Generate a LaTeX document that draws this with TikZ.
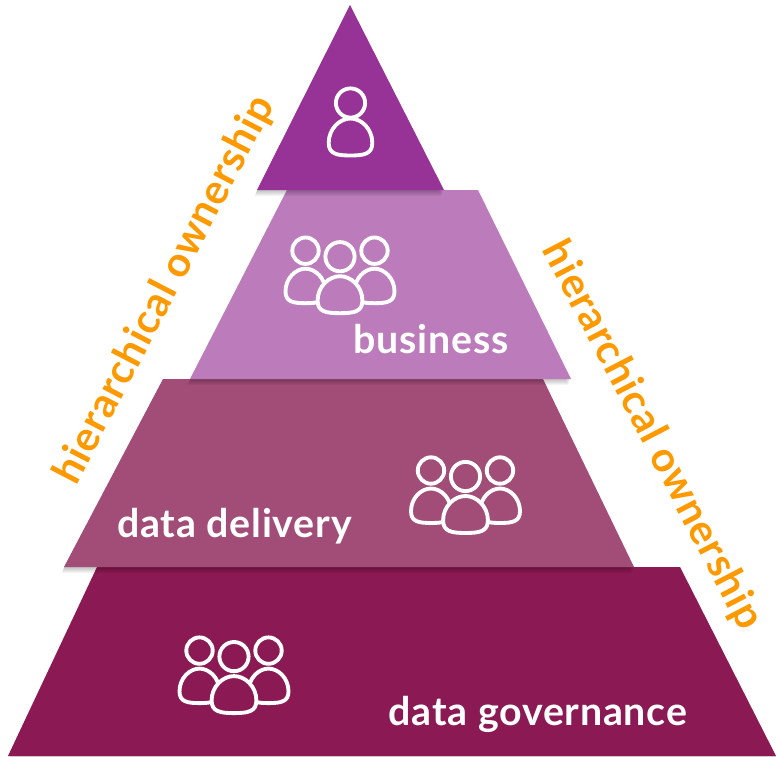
\documentclass[tikz,border=0pt]{standalone}
\usepackage{fontspec}
\setmainfont{Lato}[BoldFont={Lato Bold},LetterSpace=2.0]
\definecolor{layerA}{HTML}{973296}
\definecolor{layerB}{HTML}{BC7CBC}
\definecolor{layerC}{HTML}{A24C78}
\definecolor{layerD}{HTML}{8B1953}
\definecolor{ownorange}{HTML}{FF9900}
\tikzset{
  x=0.75pt,y=-0.75pt,
  iconline/.style={draw=white,line width=2.9pt,line join=round},
  layerlabel/.style={text=white,font=\bfseries\fontsize{29.5}{32}\selectfont,inner sep=0pt},
  ownlabel/.style={text=ownorange,font=\bfseries\fontsize{31}{33}\selectfont,inner sep=0pt},
}
% body: centre x #1, top y #2, height #3, half width #4, fill #5
\newcommand{\personbody}[5]{%
  \pgfmathsetmacro{\bx}{#1}\pgfmathsetmacro{\by}{#2}\pgfmathsetmacro{\bh}{#3}\pgfmathsetmacro{\bw}{#4}%
  \path[iconline,fill=#5] (\bx,\by)
    .. controls ({\bx+0.5*\bw},\by) and ({\bx+\bw},{\by+0.28*\bh}) .. ({\bx+\bw},{\by+0.66*\bh})
    .. controls ({\bx+\bw},{\by+0.96*\bh}) and ({\bx+0.62*\bw},{\by+\bh}) .. (\bx,{\by+\bh})
    .. controls ({\bx-0.62*\bw},{\by+\bh}) and ({\bx-\bw},{\by+0.96*\bh}) .. ({\bx-\bw},{\by+0.66*\bh})
    .. controls ({\bx-\bw},{\by+0.28*\bh}) and ({\bx-0.5*\bw},\by) .. cycle;}
\newcommand{\personhead}[4]{%
  \path[iconline,fill=#4] (#1,#2) ellipse [x radius=#3,y radius=#3];}
\newcommand{\persongroup}[3]{%
  \personbody{#1-34.5}{#2+12}{34.5}{20}{#3}
  \personbody{#1+34.5}{#2+12}{34.5}{20}{#3}
  \personhead{#1-34.5}{#2-6}{13.2}{#3}
  \personhead{#1+34.5}{#2-6}{13.2}{#3}
  \personhead{#1}{#2}{14.6}{#3}
  \personbody{#1}{#2+19.5}{37}{22.4}{#3}}
\newcommand{\softshadow}[1]{%
  \foreach \d in {1,2,...,6}{
    \begin{scope}[yshift={-\d*0.75pt},xshift={-\d*0.3pt}]\fill[black,opacity=0.045] #1;\end{scope}
  }}
\begin{document}
\begin{tikzpicture}
\useasboundingbox (0,0) rectangle (776,757);
% base layer
\fill[black,opacity=0.12] (9,758) -- (98,569) -- (681,569) -- (777,758) -- cycle;
\fill[layerD] (8,756) -- (97,567) -- (680,567) -- (776,756) -- cycle;
\softshadow{(64,567) -- (163,379) -- (543,379) -- (634,567) -- cycle}
\fill[layerC] (64,567) -- (163,379) -- (543,379) -- (634,567) -- cycle;
\softshadow{(190,379) -- (287,190) -- (478,190) -- (571,379) -- cycle}
\fill[layerB] (190,379) -- (287,190) -- (478,190) -- (571,379) -- cycle;
\softshadow{(257,190) -- (350,5) -- (444,190) -- cycle}
\fill[layerA] (257,190) -- (350,5) -- (444,190) -- cycle;
% icons
\personbody{350.5}{118.5}{37}{21.8}{layerA}
\personhead{350.5}{103}{14.6}{layerA}
\persongroup{340}{256.7}{layerB}
\persongroup{465.5}{476.5}{layerC}
\persongroup{234}{656.6}{layerD}
% labels
\node[layerlabel] (business) at (431,339) {business};
\node[layerlabel] (delivery) at (234.5,526) {data delivery};
\node[layerlabel] (governance) at (538,714) {data governance};
\node[ownlabel,rotate=62.5] (ownleft) at (165,290) {hierarchical ownership};
\node[ownlabel,rotate=-62.5] (ownright) at (652,435.5) {hierarchical ownership};
\end{tikzpicture}
\end{document}
